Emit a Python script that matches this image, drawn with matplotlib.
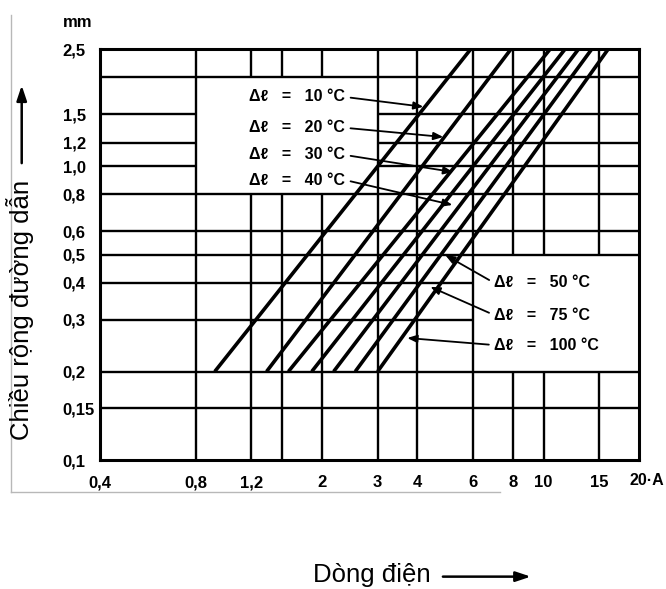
import matplotlib
matplotlib.use('Agg')
import matplotlib.pyplot as plt
import numpy as np
from matplotlib.lines import Line2D

# temperature rise of each curve and the current read at the two ends of each line
delta_t = [10, 20, 30, 40, 50, 75, 100]
current_at_02 = [0.92, 1.34, 1.57, 1.86, 2.18, 2.55, 3.0]
current_at_25 = [5.9, 7.9, 10.5, 11.7, 12.9, 14.2, 16.0]
width_ends = [0.2, 2.5]

x_ticks = [0.4, 0.8, 1.2, 2, 3, 4, 6, 8, 10, 15]
x_labels = ['0,4', '0,8', '1,2', '2', '3', '4', '6', '8', '10', '15']
y_ticks = [0.1, 0.15, 0.2, 0.3, 0.4, 0.5, 0.6, 0.8, 1.0, 1.2, 1.5, 2.5]
y_labels = ['0,1', '0,15', '0,2', '0,3', '0,4', '0,5', '0,6', '0,8', '1,0', '1,2', '1,5', '2,5']
x_grid = [0.8, 1.2, 1.5, 2, 3, 4, 6, 8, 10, 15]
y_grid = [0.15, 0.2, 0.3, 0.4, 0.5, 0.6, 0.8, 1.0, 1.2, 1.5, 2.0]

bold = dict(family=['Liberation Sans Narrow', 'Liberation Sans', 'DejaVu Sans'], weight='bold')
plain = dict(family=['Liberation Sans', 'DejaVu Sans'])

fig = plt.figure(figsize=(6.66, 5.89), dpi=100)
ax = fig.add_axes([0.1502, 0.219, 0.8093, 0.6978])
ax.set_xscale('log')
ax.set_yscale('log')
ax.set_xlim(0.4, 20)
ax.set_ylim(0.1, 2.5)

# grid with the two blank label boxes left out
blank = [(0.8, 3, 0.8, 2.0), (6, 20, 0.2, 0.5)]


def pieces(lo, hi, pos, boxes, vertical):
    cuts = []
    for bx0, bx1, by0, by1 in boxes:
        if vertical and bx0 < pos < bx1:
            cuts.append((by0, by1))
        if not vertical and by0 < pos < by1:
            cuts.append((bx0, bx1))
    cuts.sort()
    out, start = [], lo
    for c0, c1 in cuts:
        out.append((start, c0))
        start = c1
    out.append((start, hi))
    return out


for gx in x_grid:
    for a, b in pieces(0.1, 2.5, gx, blank, True):
        ax.plot([gx, gx], [a, b], color='black', lw=1.7, solid_capstyle='butt')
for gy in y_grid:
    for a, b in pieces(0.4, 20, gy, blank, False):
        ax.plot([a, b], [gy, gy], color='black', lw=1.7, solid_capstyle='butt')

for i0, i1 in zip(current_at_02, current_at_25):
    ax.plot([i0, i1], width_ends, color='black', lw=2.6, solid_capstyle='butt')

for s in ax.spines.values():
    s.set_linewidth(2.2)

ax.set_xticks(x_ticks)
ax.set_xticklabels(x_labels, fontsize=12, **bold)
ax.xaxis.set_minor_locator(plt.NullLocator())
ax.set_yticks(y_ticks)
ax.set_yticklabels(y_labels, fontsize=12, **bold)
ax.yaxis.set_minor_locator(plt.NullLocator())
ax.tick_params(axis='x', length=0, pad=11)
ax.tick_params(axis='y', length=0, pad=27)
for lab in ax.get_yticklabels():
    lab.set_ha('left')

ax.annotate('20·A', xy=(20, 0.1), xytext=(-7, -15), textcoords='offset points',
            ha='left', va='center', fontsize=11.5, **bold)
ax.annotate('mm', xy=(0.4, 2.5), xytext=(-27, 19), textcoords='offset points',
            ha='left', va='center', fontsize=12, **bold)

# labels with leader arrows
top_text_w = [1.717, 1.349, 1.09, 0.896]
top_tip = [(4.18, 1.59), (4.83, 1.255), (5.19, 0.954), (5.16, 0.737)]
for k in range(4):
    ax.annotate('Δℓ   =   %d °C' % delta_t[k], xy=top_tip[k], xytext=(1.18, top_text_w[k]),
                ha='left', va='center', fontsize=11.5, **bold,
                arrowprops=dict(arrowstyle='-|>,head_length=0.5,head_width=0.2', color='black',
                                lw=1.3, relpos=(1, 0.5), shrinkA=2, shrinkB=0))

bot_text_w = [0.40, 0.311, 0.246]
bot_tip = [(4.90, 0.498), (4.40, 0.388), (3.72, 0.260)]
for k in range(3):
    ax.annotate('Δℓ   =   %d °C' % delta_t[k + 4], xy=bot_tip[k], xytext=(7.0, bot_text_w[k]),
                ha='left', va='center', fontsize=11.5, **bold,
                arrowprops=dict(arrowstyle='-|>,head_length=0.5,head_width=0.2', color='black',
                                lw=1.3, relpos=(0, 0.5), shrinkA=2, shrinkB=0))

# axis titles with arrows
fig.text(0.030, 0.474, 'Chiều rộng đường dẫn', rotation=90, ha='center', va='center',
         fontsize=18.5, **plain)
fig.add_artist(plt.Annotation('', xy=(0.0326, 0.855), xytext=(0.0326, 0.723),
                              xycoords='figure fraction', textcoords='figure fraction',
                              arrowprops=dict(arrowstyle='-|>,head_length=0.9,head_width=0.3',
                                              color='black', lw=1.8, shrinkA=0, shrinkB=0)))
fig.text(0.558, 0.024, 'Dòng điện', ha='center', va='center', fontsize=18.5, **plain)
fig.add_artist(plt.Annotation('', xy=(0.797, 0.021), xytext=(0.665, 0.021),
                              xycoords='figure fraction', textcoords='figure fraction',
                              arrowprops=dict(arrowstyle='-|>,head_length=0.9,head_width=0.3',
                                              color='black', lw=1.8, shrinkA=0, shrinkB=0)))

# faint page edge of the scan
fig.add_artist(Line2D([0.017, 0.017], [0.165, 0.975], color='#b8b8b8', lw=1))
fig.add_artist(Line2D([0.017, 0.75], [0.165, 0.165], color='#b8b8b8', lw=1))

fig.savefig('out.png', dpi=100)
